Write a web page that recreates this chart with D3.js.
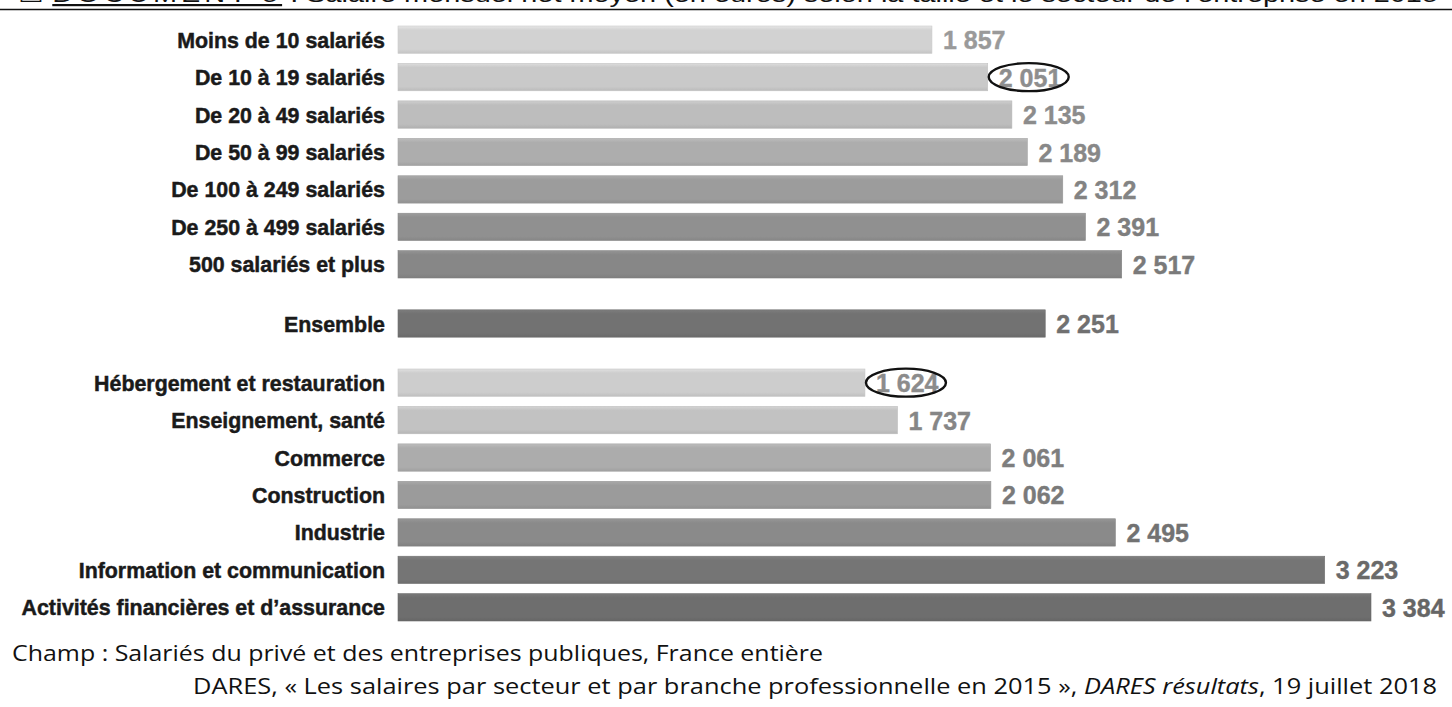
<!DOCTYPE html>
<html><head><meta charset="utf-8">
<script src="https://cdn.jsdelivr.net/npm/d3@7"></script>
<style>
html,body{margin:0;padding:0;background:#fff;}
svg{display:block;}
</style></head>
<body>
<svg id="chart" width="1452" height="707"></svg>
<script>
// ---- data ----
const sizeCategories = ["Moins de 10 salariés","De 10 à 19 salariés","De 20 à 49 salariés","De 50 à 99 salariés","De 100 à 249 salariés","De 250 à 499 salariés","500 salariés et plus"];
const sizeValues = [1857, 2051, 2135, 2189, 2312, 2391, 2517];
const totalCategory = ["Ensemble"];
const totalValue = [2251];
const sectorCategories = ["Hébergement et restauration","Enseignement, santé","Commerce","Construction","Industrie","Information et communication","Activités financières et d’assurance"];
const sectorValues = [1624, 1737, 2061, 2062, 2495, 3223, 3384];
const valueLabels = ["1 857","2 051","2 135","2 189","2 312","2 391","2 517","2 251","1 624","1 737","2 061","2 062","2 495","3 223","3 384"];
const circled = ["De 10 à 19 salariés","Hébergement et restauration"];
const barColors = ["#d2d2d2","#c9c9c9","#bdbdbd","#adadad","#9c9c9c","#909090","#878787","#727272","#cdcdcd","#c2c2c2","#acacac","#9b9b9b","#8a8a8a","#757575","#6e6e6e"];
const labelColors = ["#9a9a9a","#8e8e8e","#8c8c8c","#888888","#838383","#7e7e7e","#7a7a7a","#707070","#8c8c8c","#868686","#7e7e7e","#7a7a7a","#727272","#6a6a6a","#666666"];
const titleText = "DOCUMENT 5";
const titleRest = " : Salaire mensuel net moyen (en euros) selon la taille et le secteur de l’entreprise en 2015";
const noteText = "Champ : Salariés du privé et des entreprises publiques, France entière";

const rows = [];
sizeCategories.forEach((c,i)=>rows.push({cat:c, val:sizeValues[i], group:0}));
totalCategory.forEach((c,i)=>rows.push({cat:c, val:totalValue[i], group:1}));
sectorCategories.forEach((c,i)=>rows.push({cat:c, val:sectorValues[i], group:2}));
rows.forEach((r,i)=>{r.label=valueLabels[i]; r.color=barColors[i]; r.lcolor=labelColors[i]; r.idx=i;});

const svg = d3.select("#chart");
const x = d3.scaleLinear().domain([0, 3384]).range([398, 1371]);

// vertical layout: 15 bars with two wider gaps around "Ensemble"
const gapFactor = 0.58;
const padIn = 0.27;
const totalH = 595;
const nEff = 15 + 2*gapFactor;
const stepE = totalH / (nEff - padIn);
const bandH = stepE*(1-padIn);
function yTop(r){
  let k = r.idx;
  if (r.idx >= 7) k += gapFactor;
  if (r.idx >= 8) k += gapFactor;
  return 26 + k*stepE;
}

// title (cut off at top, as in the reference)
const title = svg.append("text").attr("x", 18).attr("y", 2)
  .style("font-family","'Liberation Sans', Arial, sans-serif").style("font-size","22px").attr("fill","#111");
title.append("tspan").text("☐ ");
title.append("tspan").text(titleText).style("text-decoration","underline").attr("letter-spacing","3");
title.append("tspan").text(titleRest);
title.attr("textLength", 1420).attr("lengthAdjust","spacingAndGlyphs");
svg.append("line").attr("x1",0).attr("x2",1452).attr("y1",9.5).attr("y2",9.5).attr("stroke","#111").attr("stroke-width",1.6);

// gradients for bars
const defs = svg.append("defs");
rows.forEach(r=>{
  const g = defs.append("linearGradient").attr("id","g"+r.idx).attr("x1",0).attr("x2",0).attr("y1",0).attr("y2",1);
  const c = d3.color(r.color);
  g.append("stop").attr("offset","0%").attr("stop-color", c.brighter(0.25));
  g.append("stop").attr("offset","15%").attr("stop-color", c);
  g.append("stop").attr("offset","85%").attr("stop-color", c);
  g.append("stop").attr("offset","100%").attr("stop-color", c.darker(0.2));
});

// bars
svg.append("g").selectAll("rect").data(rows).join("rect")
  .attr("x", x(0)).attr("y", d=>yTop(d))
  .attr("width", d=>x(d.val)-x(0)).attr("height", bandH)
  .attr("fill", d=>`url(#g${d.idx})`)
  .attr("stroke", d=>d3.color(d.color).darker(0.1)).attr("stroke-width",0.6);

// category labels
svg.append("g").selectAll("text").data(rows).join("text")
  .attr("transform", d=>`translate(385,${yTop(d)+bandH/2+8}) scale(0.93,1)`)
  .attr("text-anchor","end")
  .style("font-family","'Liberation Sans Narrow','Liberation Sans',Arial,sans-serif")
  .style("font-weight","bold").style("font-size","23px").attr("fill","#1a1a1a")
  .attr("stroke","#1a1a1a").attr("stroke-width",0.5)
  .text(d=>d.cat);

// value labels
svg.append("g").selectAll("text").data(rows).join("text")
  .attr("transform", d=>`translate(${x(d.val)+11},${yTop(d)+bandH/2+9.5})`)
  .style("font-family","'Liberation Sans Narrow','Liberation Sans',Arial,sans-serif")
  .style("font-weight","bold").style("font-size","25px").attr("fill", d=>d.lcolor)
  .attr("stroke", d=>d.lcolor).attr("stroke-width",0.4)
  .text(d=>d.label);

// ellipses
svg.append("g").selectAll("ellipse").data(rows.filter(r=>circled.includes(r.cat))).join("ellipse")
  .attr("cx", d=>x(d.val)+41).attr("cy", d=>yTop(d)+bandH/2)
  .attr("rx", 40).attr("ry", 14)
  .attr("fill","none").attr("stroke","#111").attr("stroke-width",2.4);

// footer
svg.append("text").attr("x",12).attr("y",661)
  .style("font-family","'Open Sans','Liberation Sans',sans-serif").style("font-size","21px").attr("fill","#111")
  .attr("textLength", 811).attr("lengthAdjust","spacingAndGlyphs")
  .text(noteText);
const src = svg.append("text").attr("x",193).attr("y",694)
  .style("font-family","'Open Sans','Liberation Sans',sans-serif").style("font-size","21px").attr("fill","#111")
  .attr("textLength", 1244).attr("lengthAdjust","spacingAndGlyphs");
src.append("tspan").text("DARES, « Les salaires par secteur et par branche professionnelle en 2015 », ");
src.append("tspan").text("DARES résultats").style("font-style","italic");
src.append("tspan").text(", 19 juillet 2018");
</script>
</body></html>
